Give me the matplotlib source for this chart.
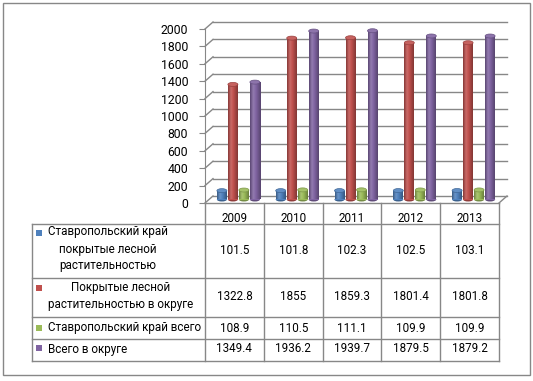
import matplotlib
matplotlib.use('Agg')
import matplotlib.pyplot as plt
import numpy as np
from matplotlib.patches import Ellipse, Rectangle
from matplotlib.colors import to_rgb, LinearSegmentedColormap

plt.rcParams['font.family'] = ['Roboto', 'DejaVu Sans']

years = ['2009', '2010', '2011', '2012', '2013']
series_names = ['Ставропольский край\nпокрытые лесной\nрастительностью',
                'Покрытые лесной\nрастительностью в округе',
                'Ставропольский край всего',
                'Всего в округе']
krai_forest = [101.5, 101.8, 102.3, 102.5, 103.1]
okrug_forest = [1322.8, 1855, 1859.3, 1801.4, 1801.8]
krai_total = [108.9, 110.5, 111.1, 109.9, 109.9]
okrug_total = [1349.4, 1936.2, 1939.7, 1879.5, 1879.2]
value_labels = [['101.5', '101.8', '102.3', '102.5', '103.1'],
                ['1322.8', '1855', '1859.3', '1801.4', '1801.8'],
                ['108.9', '110.5', '111.1', '109.9', '109.9'],
                ['1349.4', '1936.2', '1939.7', '1879.5', '1879.2']]
series = [krai_forest, okrug_forest, krai_total, okrug_total]
colors = ['#4F81BD', '#C0504D', '#9BBB59', '#8064A2']
yticks = list(range(0, 2001, 200))

W, H = 533, 381
fig = plt.figure(figsize=(W / 100, H / 100), dpi=100)
FS = 8.4
GRID = '#878787'

# pixel-space overlay for frame & table
bg = fig.add_axes([0, 0, 1, 1], zorder=0)
bg.set_xlim(0, W)
bg.set_ylim(H, 0)
bg.axis('off')

# chart axes (front plane)
L, R, B, T = 205, 499, 203, 29
ax = fig.add_axes([L / W, 1 - B / H, (R - L) / W, (B - T) / H], zorder=1)
ax.patch.set_alpha(0)
ax.set_xlim(-0.5, 4.5)
ax.set_ylim(0, 2000)
ax.set_autoscale_on(False)
for s in ['top', 'right', 'bottom']:
    ax.spines[s].set_visible(False)
ax.spines['left'].set_color(GRID)
ax.set_xticks([])
ax.set_yticks(yticks)
ax.set_yticklabels([str(v) for v in yticks], fontsize=8.8)
ax.tick_params(axis='y', length=4, color=GRID, pad=8)

px_x = 5 / (R - L)          # data units per pixel, x
px_y = 2000 / (B - T)       # data units per pixel, y
DX, DY = 8 * px_x, 7 * px_y

# back wall grid lines and left-wall diagonals
for v in yticks:
    ax.plot([-0.5 + DX, 4.5 + DX], [v + DY, v + DY], color=GRID, lw=1, clip_on=False, zorder=1)
    ax.plot([-0.5, -0.5 + DX], [v, v + DY], color=GRID, lw=1, clip_on=False, zorder=1)
# floor
ax.plot([-0.5, 4.5], [0, 0], color=GRID, lw=1, clip_on=False, zorder=1)
ax.plot([4.5, 4.5 + DX], [0, DY], color=GRID, lw=1, clip_on=False, zorder=1)


def shade(c, f):
    r = np.array(to_rgb(c))
    if f >= 1:
        return tuple(r + (1 - r) * (f - 1))
    return tuple(r * f)


bw = 10 * px_x
step = 11 * px_x
x = np.arange(len(years))
EH = 4 * px_y
for k, (vals, col) in enumerate(zip(series, colors)):
    xs = x + DX / 2 + (k - 1.5) * step
    bars = ax.bar(xs, vals, width=bw, bottom=DY / 2, color=col, zorder=3, linewidth=0)
    cmap = LinearSegmentedColormap.from_list(
        'c%d' % k, [(0, shade(col, 0.7)), (0.3, shade(col, 1.15)),
                    (0.55, shade(col, 1.0)), (1, shade(col, 0.68))])
    grad = np.linspace(0, 1, 64).reshape(1, -1)
    for b in bars:
        x0, y0 = b.get_x(), b.get_y()
        w, h = b.get_width(), b.get_height()
        ax.add_patch(Ellipse((x0 + w / 2, y0), w, EH, facecolor=shade(col, 0.75),
                             edgecolor='none', zorder=2.9, clip_on=False))
        im = ax.imshow(grad, cmap=cmap, extent=[x0, x0 + w, y0, y0 + h],
                       aspect='auto', zorder=3.1, interpolation='bilinear')
        im.set_clip_path(b)
        ax.add_patch(Ellipse((x0 + w / 2, y0 + h), w, EH, facecolor=shade(col, 1.1),
                             edgecolor=shade(col, 0.8), lw=0.5, zorder=3.2, clip_on=False))
ax.set_xlim(-0.5, 4.5)
ax.set_ylim(0, 2000)

# outer frame
bg.add_patch(Rectangle((3, 3), 527, 372, fill=False, edgecolor=GRID, lw=1))

# data table
col_x = np.linspace(L, R, len(years) + 1)
row_y = [224, 278, 317, 339, 361]
TL = 32
for cx in col_x:
    bg.plot([cx, cx], [B, row_y[-1]], color=GRID, lw=1)
bg.plot([TL, TL], [row_y[0], row_y[-1]], color=GRID, lw=1)
for ry in row_y:
    bg.plot([TL, R], [ry, ry], color=GRID, lw=1)

centers = (col_x[:-1] + col_x[1:]) / 2
for c, yr in zip(centers, years):
    bg.text(c, 219, yr, ha='center', va='center', fontsize=FS)

label_y = [249, 296, 328, 349]
value_y = [251, 297, 328, 349]
square_y = [233, 288, 328, 348]
for i in range(4):
    bg.add_patch(Rectangle((36, square_y[i] - 3), 6, 6, facecolor=colors[i], edgecolor='none'))
    bg.text(47.5, label_y[i], series_names[i], ha='left', va='center',
            multialignment='center', fontsize=FS, linespacing=1.4)
    for j, c in enumerate(centers):
        bg.text(c, value_y[i], value_labels[i][j], ha='center', va='center', fontsize=FS)

fig.savefig('out.png', dpi=100)
